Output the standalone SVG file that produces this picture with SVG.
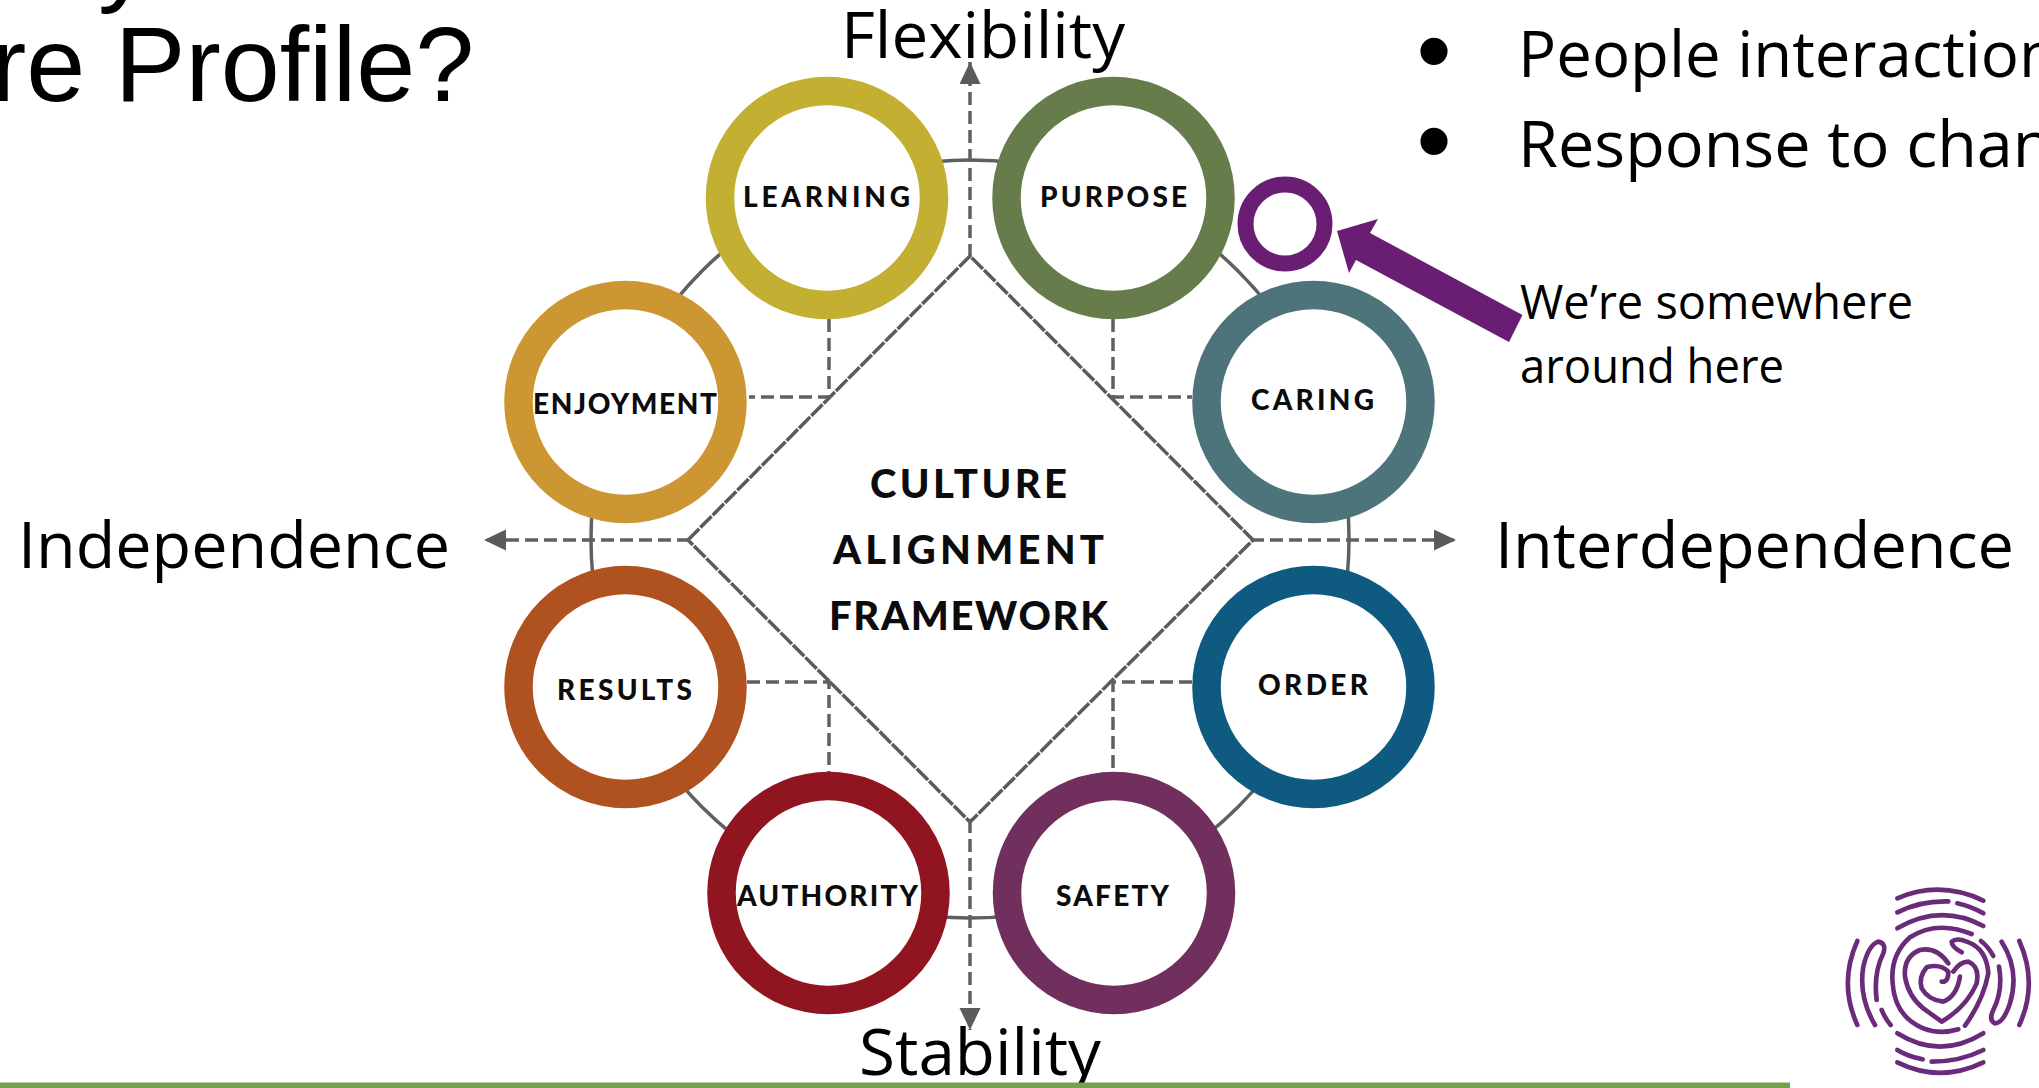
<svg xmlns="http://www.w3.org/2000/svg" width="2039" height="1088" viewBox="0 0 2039 1088">
<style>
.ring{fill:#fff;stroke-width:28.5}
.lbl{font-family:Lato,"Liberation Sans",sans-serif;font-weight:900;font-size:28px;fill:#0c0c0c}
.big{font-family:Lato,"Liberation Sans",sans-serif;font-weight:900;font-size:40px;fill:#0c0c0c}
.cal{font-family:"Open Sans","Liberation Sans",sans-serif;fill:#000}
.ax{font-size:64px}
.note{font-size:47px}
.bul{font-family:"Liberation Sans",sans-serif;font-size:100px;fill:#000}
.dash{fill:none;stroke:#5f6062;stroke-width:3.5;stroke-dasharray:13 6}
.logo{fill:none;stroke:#6a2c7a;stroke-width:14;stroke-linecap:round;stroke-linejoin:round}
</style>
<defs>
<marker id="ah" markerUnits="userSpaceOnUse" markerWidth="23" markerHeight="22" refX="22" refY="10.5" orient="auto"><path d="M0 0L22 10.5L0 21Z" fill="#5a5b5d"/></marker>
</defs>
<rect width="2039" height="1088" fill="#fff"/>
<g id="title">
<text x="98" y="-8" font-family="Liberation Sans, sans-serif" font-size="106" fill="#000">y</text>
<text x="-9" y="101" font-family="Liberation Sans, sans-serif" font-size="106" fill="#000">re Profile?</text>
</g>
<g id="bullets">
<text class="bul" x="1434" y="85" text-anchor="middle">•</text>
<text class="bul" x="1434" y="175" text-anchor="middle">•</text>
<text class="cal ax" x="1518" y="77" textLength="540" lengthAdjust="spacingAndGlyphs">People interaction</text>
<text class="cal ax" x="1518" y="167" textLength="606" lengthAdjust="spacingAndGlyphs">Response to change</text>
</g>
<g id="connectors">
<circle cx="970" cy="539" r="379" fill="none" stroke="#5f6062" stroke-width="3.5"/>
<path d="M688 540L970 256L1253 540L970 822Z" fill="none" stroke="#5a5b5d" stroke-width="3.500" stroke-dasharray="16 1.5"/>
<path class="dash" d="M970 257V62" marker-end="url(#ah)"/>
<path class="dash" d="M970 820V1030" marker-end="url(#ah)"/>
<path class="dash" d="M690 540H484" marker-end="url(#ah)"/>
<path class="dash" d="M1251 540H1456" marker-end="url(#ah)"/>
<path class="dash" d="M829 319V397H749"/>
<path class="dash" d="M1113 319V397H1192"/>
<path class="dash" d="M747 682H829V772"/>
<path class="dash" d="M1192 682H1113V772"/>
</g>
<g id="learning"><circle class="ring" cx="827" cy="198" r="107" stroke="#c3b033"/><text class="lbl" x="743" y="207" textLength="167">LEARNING</text></g>
<g id="purpose"><circle class="ring" cx="1113.500" cy="198" r="107" stroke="#677c4b"/><text class="lbl" x="1040" y="207" textLength="147">PURPOSE</text></g>
<g id="enjoyment"><circle class="ring" cx="625.500" cy="402" r="107" stroke="#cc9632"/><text class="lbl" x="533" y="414" textLength="184">ENJOYMENT</text></g>
<g id="caring"><circle class="ring" cx="1313.500" cy="402" r="107" stroke="#4d747a"/><text class="lbl" x="1251" y="410" textLength="123">CARING</text></g>
<g id="results"><circle class="ring" cx="625.500" cy="687" r="107" stroke="#b0521f"/><text class="lbl" x="557" y="700" textLength="135">RESULTS</text></g>
<g id="order"><circle class="ring" cx="1313.500" cy="687" r="107" stroke="#0f5a80"/><text class="lbl" x="1258" y="695" textLength="110">ORDER</text></g>
<g id="authority"><circle class="ring" cx="828.500" cy="893" r="107" stroke="#911520"/><text class="lbl" x="737" y="906" textLength="181">AUTHORITY</text></g>
<g id="safety"><circle class="ring" cx="1114" cy="893" r="107" stroke="#712f5d"/><text class="lbl" x="1056" y="906" textLength="113">SAFETY</text></g>
<g id="center">
<text class="big" x="870" y="498" textLength="197">CULTURE</text>
<text class="big" x="833" y="564" textLength="271">ALIGNMENT</text>
<text class="big" x="829" y="630" textLength="279">FRAMEWORK</text>
</g>
<g id="axis-labels">
<text class="cal ax" x="841" y="58" textLength="284" lengthAdjust="spacingAndGlyphs">Flexibility</text>
<text class="cal ax" x="859" y="1075" textLength="242" lengthAdjust="spacingAndGlyphs">Stability</text>
<text class="cal ax" x="18" y="568" textLength="432" lengthAdjust="spacingAndGlyphs">Independence</text>
<text class="cal ax" x="1495" y="568" textLength="519" lengthAdjust="spacingAndGlyphs">Interdependence</text>
</g>
<g id="marker">
<circle cx="1285" cy="224" r="39.500" fill="#fff" stroke="#691e74" stroke-width="16"/>
<path d="M1337 231L1378 219L1370 233L1522.500 315L1509 342L1356 260L1349 273Z" fill="#691e74"/>
<text class="cal note" x="1520" y="319" textLength="393" lengthAdjust="spacingAndGlyphs">We’re somewhere</text>
<text class="cal note" x="1520" y="383" textLength="264" lengthAdjust="spacingAndGlyphs">around here</text>
</g>
<g id="logo" transform="translate(1780 860) scale(.3333)" class="logo">
<path d="M352 115Q480 60 610 122"/>
<path d="M352 157Q420 122 505 124M532 130Q575 140 610 160"/>
<path d="M352 205Q480 130 610 198"/>
<path d="M575 222Q470 180 390 232Q330 285 338 370Q345 470 430 505Q480 525 535 508"/>
<path d="M555 497Q610 420 625 340Q620 265 560 245Q530 232 515 245Q515 260 545 277"/>
<path d="M505 310Q470 260 420 270Q370 290 375 350Q385 410 430 445L485 485Q560 440 590 370Q600 320 565 305Q540 305 520 335"/>
<path d="M485 365Q505 368 505 335Q480 310 440 322Q415 350 425 385Q445 420 490 425Q530 410 540 350"/>
<path d="M232 243Q175 370 232 495"/>
<path d="M285 495Q235 410 250 320Q265 255 295 245Q320 250 310 280Q280 340 290 420"/>
<path d="M305 450Q315 475 332 495"/>
<path d="M718 243Q775 370 718 495"/>
<path d="M665 245Q720 330 690 430Q670 490 645 490Q625 480 640 450Q670 390 657 320"/>
<path d="M603 243Q625 260 640 288"/>
<path d="M352 520Q480 600 610 520"/>
<path d="M352 570Q385 590 428 598"/>
<path d="M455 605Q540 605 610 570"/>
<path d="M352 607Q480 670 610 607"/>
</g>
<rect id="baseline" x="0" y="1082.500" width="1790" height="5.500" fill="#76a04b"/>
</svg>
